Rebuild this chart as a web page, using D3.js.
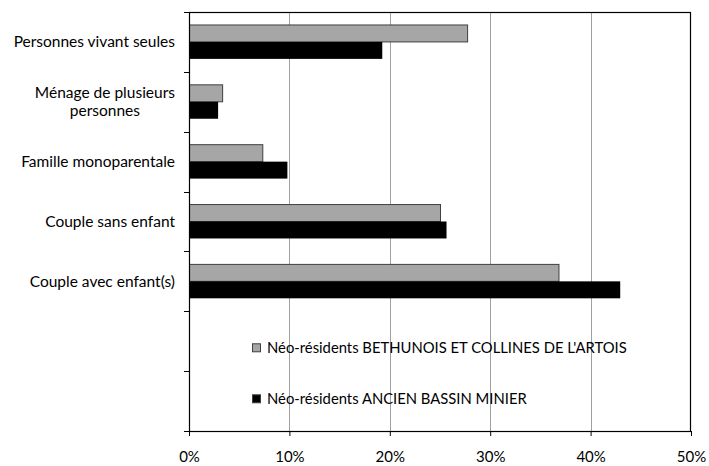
<!DOCTYPE html>
<html>
<head>
<meta charset="utf-8">
<script src="https://cdn.jsdelivr.net/npm/d3@7"></script>
<style>
  body { margin: 0; background: #fff; }
  text { font-family: Lato, "Open Sans", sans-serif; fill: #000; }
</style>
</head>
<body>
<script>
// categories, top to bottom (two blank slots at the bottom hold the legend)
var categories = ["Personnes vivant seules", "Ménage de plusieurs\npersonnes", "Famille monoparentale",
                  "Couple sans enfant", "Couple avec enfant(s)", "", " "];
var seriesNames = ["Néo-résidents BETHUNOIS ET COLLINES DE L'ARTOIS", "Néo-résidents ANCIEN BASSIN MINIER"];
var bethunois = [27.7, 3.3, 7.3, 25.0, 36.8];
var bassinMinier = [19.2, 2.85, 9.75, 25.6, 42.9];
var xTicks = [0, 10, 20, 30, 40, 50];
var colors = ["#a6a6a6", "#000000"];

var margin = {top: 12, right: 18, bottom: 35, left: 189},
    width = 709 - margin.left - margin.right,
    height = 466 - margin.top - margin.bottom;

var svg = d3.select("body").append("svg")
    .attr("width", 709)
    .attr("height", 466);

var g = svg.append("g")
    .attr("transform", "translate(" + margin.left + "," + margin.top + ")");

var x = d3.scaleLinear().domain([0, 50]).range([0, width]);
var y = d3.scaleBand().domain(categories).range([0, height]);
var ySub = d3.scaleBand().domain([0, 1]).range([0, y.bandwidth()]).paddingOuter(0.765);

// vertical grid
g.append("g").selectAll("line")
    .data(xTicks.slice(1, -1))
  .enter().append("line")
    .attr("x1", function(d) { return Math.round(x(d)) + 0.5; })
    .attr("x2", function(d) { return Math.round(x(d)) + 0.5; })
    .attr("y1", 0).attr("y2", height)
    .attr("stroke", "#a0a0a0");

// bars
var series = [bethunois, bassinMinier];
series.forEach(function(vals, s) {
  g.append("g").selectAll("rect")
      .data(vals)
    .enter().append("rect")
      .attr("x", 0.5)
      .attr("y", function(d, i) { return y(categories[i]) + ySub(s); })
      .attr("width", function(d) { return x(d); })
      .attr("height", ySub.bandwidth())
      .attr("fill", colors[s])
      .attr("stroke", s == 0 ? "#404040" : "none")
      .attr("stroke-width", 1);
});

// frame
g.append("rect")
    .attr("x", 0.5).attr("y", 0.5)
    .attr("width", width - 1).attr("height", height)
    .attr("fill", "none")
    .attr("stroke", "#000")
    .attr("stroke-width", 1.2);

// y ticks at slot boundaries
var yEdges = categories.map(function(c) { return y(c); }).concat([height]);
g.append("g").selectAll("line")
    .data(yEdges)
  .enter().append("line")
    .attr("x1", -5).attr("x2", 0)
    .attr("y1", function(d) { return Math.round(d) + 0.5; })
    .attr("y2", function(d) { return Math.round(d) + 0.5; })
    .attr("stroke", "#000");

// x axis
var xAxis = d3.axisBottom(x)
    .tickValues(xTicks)
    .tickSize(5)
    .tickPadding(15)
    .tickFormat(function(d) { return d + "%"; });
var ax = g.append("g")
    .attr("transform", "translate(0," + height + ")")
    .call(xAxis);
ax.select(".domain").remove();
ax.selectAll("line").attr("stroke", "#000");
ax.selectAll("text").attr("font-size", 15).attr("font-family", "Lato");

// category labels (multi-line ones are centred on their longest line)
var lab = g.append("g").selectAll("text")
    .data(categories.slice(0, 5))
  .enter().append("text")
    .attr("font-size", 15.5)
    .attr("y", function(d) { return y(d) + y.bandwidth() / 2; });
lab.each(function(d) {
  var lines = d.split("\n");
  var t = d3.select(this);
  var spans = lines.map(function(l, k) {
    return t.append("tspan")
      .attr("dy", k == 0 ? (5.5 - (lines.length - 1) * 9) : 18)
      .text(l);
  });
  var wMax = d3.max(spans, function(s) { return s.node().getComputedTextLength(); });
  spans.forEach(function(s) {
    s.attr("text-anchor", "middle").attr("x", -14 - wMax / 2);
  });
});

// legend
var leg = g.append("g").selectAll("g")
    .data(seriesNames)
  .enter().append("g")
    .attr("transform", function(d, i) { return "translate(63," + (y(categories[5]) + 37 + i * 51) + ")"; });
leg.append("rect")
    .attr("x", 0.5).attr("y", -4.5)
    .attr("width", 8).attr("height", 8)
    .attr("fill", function(d, i) { return colors[i]; })
    .attr("stroke", "#404040");
leg.append("text")
    .attr("x", 15)
    .attr("y", 5)
    .attr("font-size", 14.8)
    .text(function(d) { return d; });
</script>
</body>
</html>
